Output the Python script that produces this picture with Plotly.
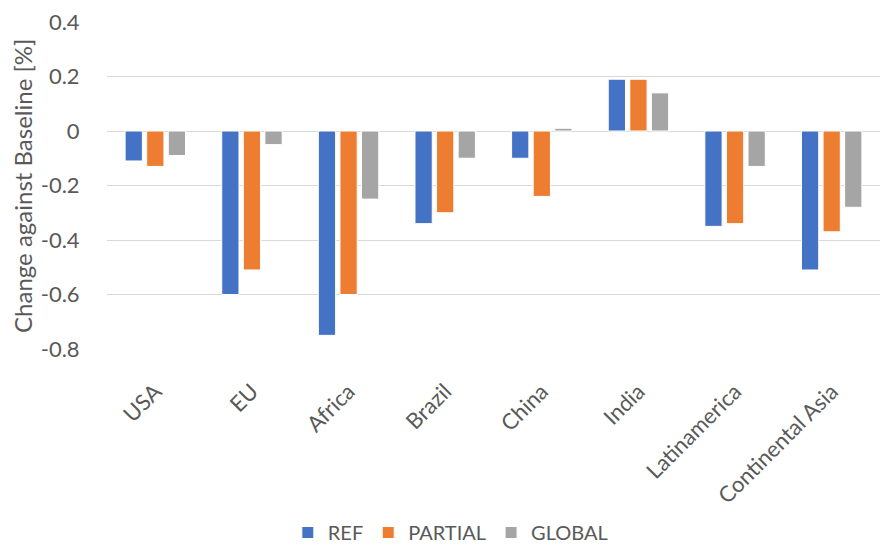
import plotly.graph_objects as go

categories = ["USA", "EU", "Africa", "Brazil", "China", "India", "Latinamerica", "Continental Asia"]
ref_vals = [-0.11, -0.60, -0.75, -0.34, -0.10, 0.19, -0.35, -0.51]
partial_vals = [-0.13, -0.51, -0.60, -0.30, -0.24, 0.19, -0.34, -0.37]
global_vals = [-0.09, -0.05, -0.25, -0.10, 0.01, 0.14, -0.13, -0.28]
y_ticks = [0.4, 0.2, 0, -0.2, -0.4, -0.6, -0.8]
y_ticktext = ["0.4", "0.2", "0", "-0.2", "-0.4", "-0.6", "-0.8"]

FONT = "Lato"
TXT = "#595959"

fig = go.Figure()
for name, vals, col in [("REF", ref_vals, "#4472C4"),
                        ("PARTIAL", partial_vals, "#ED7D31"),
                        ("GLOBAL", global_vals, "#A5A5A5")]:
    fig.add_trace(go.Bar(x=categories, y=vals, name=name,
                         marker=dict(color=col, line=dict(color="white", width=1))))

fig.update_layout(
    width=883, height=552,
    margin=dict(l=107, r=3, t=22, b=203),
    paper_bgcolor="white", plot_bgcolor="white",
    barmode="group", bargap=0.33, bargroupgap=0.2,
    font=dict(family=FONT, size=20, color=TXT),
    legend=dict(orientation="h", xref="container", yref="container",
                x=0.51, y=0.0, xanchor="center", yanchor="bottom",
                font=dict(family=FONT, size=20, color=TXT),
                itemwidth=30, tracegroupgap=0),
    showlegend=True,
)
fig.update_yaxes(range=[-0.8, 0.4], tickvals=y_ticks, ticktext=y_ticktext,
                 showgrid=True, gridcolor="#D9D9D9", gridwidth=1,
                 zeroline=True, zerolinecolor="#D9D9D9", zerolinewidth=1,
                 ticks="outside", ticklen=22, tickcolor="white",
                 tickfont=dict(family=FONT, size=22, color=TXT), showline=False)
fig.update_xaxes(tickangle=-45, showgrid=False, showline=False,
                 ticks="outside", ticklen=20, tickcolor="white",
                 tickfont=dict(family=FONT, size=22, color=TXT))
fig.add_annotation(text="Change against Baseline [%]", textangle=-90,
                   xref="paper", yref="paper", x=(22 - 107) / 777, y=0.5,
                   xanchor="center", yanchor="middle", showarrow=False,
                   font=dict(family=FONT, size=24, color=TXT))

fig.write_html("out.html")
